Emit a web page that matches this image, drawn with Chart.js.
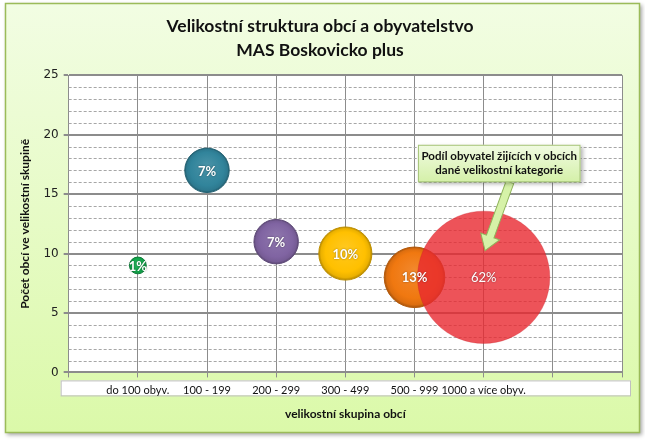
<!DOCTYPE html>
<html>
<head>
<meta charset="utf-8">
<script src="https://cdn.jsdelivr.net/npm/chart.js@4.4.1/dist/chart.umd.min.js"></script>
<style>
  html, body { margin: 0; padding: 0; background: #fff; }
  #wrap { width: 645px; height: 440px; position: relative; }
</style>
</head>
<body>
<div id="wrap"><canvas id="myChart"></canvas></div>
<script>
const categories = ["do 100 obyv.", "100 - 199", "200 - 299", "300 - 499", "500 - 999", "1000 a více obyv."];
const municipalityCounts = [9, 17, 11, 10, 8, 8];
const populationShares = [1, 7, 7, 10, 13, 62];
const bubbleColors = ["#12a84c", "#31849b", "#8064a2", "#ffc000", "#f07810", "#e8323c"];
const yTickValues = [0, 5, 10, 15, 20, 25];
const calloutLines = ["Podíl obyvatel žijících v obcích", "dané velikostní kategorie"];
// callout box + arrow in data units (x from, x to, y top, y bottom; arrow tip)
const calloutBox = [5.05, 7.4, 19.15, 16.0];
const calloutArrow = [6.38, 16.0, 6.02, 10.25];

const FONT = "Lato, 'Open Sans', sans-serif";

const bubblePoints = categories.map((c, i) => ({
  x: i + 1,
  y: municipalityCounts[i],
  r: 8.4 * Math.sqrt(populationShares[i]),
}));

const shade = (hex, amt) => {
  const n = parseInt(hex.slice(1), 16);
  const f = (v) => Math.max(0, Math.min(255, Math.round(amt > 0 ? v + (255 - v) * amt : v * (1 + amt))));
  return `rgb(${f(n >> 16)},${f((n >> 8) & 255)},${f(n & 255)})`;
};

const bubbleFill = (context) => {
  const chart = context.chart;
  const i = context.dataIndex;
  const color = bubbleColors[i];
  if (i === undefined) return "#999";
  if (i === 5) return "rgba(232,40,48,0.8)";
  const { x, y } = chart.scales;
  if (!x || !y) return color;
  const p = bubblePoints[i];
  const px = x.getPixelForValue(p.x);
  const py = y.getPixelForValue(p.y);
  if (!Number.isFinite(px) || !Number.isFinite(py)) return color;
  const r = p.r;
  const g = chart.ctx.createRadialGradient(px, py - r * 0.25, 0, px, py, r);
  g.addColorStop(0, shade(color, 0.12));
  g.addColorStop(0.75, color);
  g.addColorStop(0.92, shade(color, -0.08));
  g.addColorStop(1, shade(color, -0.3));
  return g;
};

const frame = {
  id: "frame",
  beforeDraw(chart) {
    const { ctx, chartArea: a } = chart;
    ctx.save();
    ctx.fillStyle = "#fff";
    ctx.fillRect(0, 0, chart.width, chart.height);
    ctx.shadowColor = "rgba(0,0,0,0.35)";
    ctx.shadowBlur = 4;
    ctx.shadowOffsetX = 2;
    ctx.shadowOffsetY = 2;
    const g = ctx.createLinearGradient(0, 3, 0, 432);
    g.addColorStop(0, "#f2fde3");
    g.addColorStop(1, "#dbf9a9");
    ctx.fillStyle = g;
    ctx.fillRect(5, 3, 635, 430);
    ctx.shadowColor = "transparent";
    ctx.strokeStyle = "#9bbb59";
    ctx.lineWidth = 1.5;
    ctx.strokeRect(5.5, 3.5, 634, 429);
    ctx.fillStyle = "#fff";
    ctx.fillRect(a.left, a.top, a.right - a.left, a.bottom - a.top);
    // category label strip
    ctx.fillRect(a.left - 8, a.bottom + 8, a.right - a.left + 17, 15);
    ctx.strokeStyle = "#bfbfbf";
    ctx.lineWidth = 1;
    ctx.strokeRect(a.left - 7.5, a.bottom + 8.5, a.right - a.left + 16, 15);
    ctx.restore();
  },
  beforeDatasetsDraw(chart) {
    const { ctx, chartArea: a, scales } = chart;
    ctx.save();
    ctx.strokeStyle = "#a6a6a6";
    ctx.lineWidth = 1;
    ctx.setLineDash([3, 2]);
    for (let v = 1; v < 25; v++) {
      if (v % 5 === 0) continue;
      const py = Math.round(scales.y.getPixelForValue(v)) + 0.5;
      ctx.beginPath();
      ctx.moveTo(a.left, py);
      ctx.lineTo(a.right, py);
      ctx.stroke();
    }
    ctx.restore();
  },
  afterDatasetsDraw(chart) {
    const { ctx } = chart;
    const meta = chart.getDatasetMeta(0);
    ctx.save();
    ctx.textAlign = "center";
    ctx.textBaseline = "middle";
    meta.data.forEach((el, i) => {
      ctx.font = `${i === 5 ? "normal" : "bold"} 13px ${FONT}`;
      ctx.fillStyle = "#fff";
      ctx.shadowColor = "rgba(0,0,0,0.45)";
      ctx.shadowBlur = 2;
      ctx.fillText(populationShares[i] + "%", el.x, el.y + 1);
    });
    ctx.restore();
  },
  afterDraw(chart) {
    const { ctx, scales } = chart;
    const X = (v) => scales.x.getPixelForValue(v);
    const Y = (v) => scales.y.getPixelForValue(v);
    ctx.save();
    // arrow
    const x0 = X(calloutArrow[0]), y0 = Y(calloutArrow[1]);
    const x1 = X(calloutArrow[2]), y1 = Y(calloutArrow[3]);
    const ang = Math.atan2(y1 - y0, x1 - x0);
    const len = Math.hypot(x1 - x0, y1 - y0);
    ctx.translate(x0, y0);
    ctx.rotate(ang);
    ctx.beginPath();
    ctx.moveTo(0, -4);
    ctx.lineTo(len - 15, -4);
    ctx.lineTo(len - 15, -10);
    ctx.lineTo(len, 0);
    ctx.lineTo(len - 15, 10);
    ctx.lineTo(len - 15, 4);
    ctx.lineTo(0, 4);
    ctx.closePath();
    ctx.fillStyle = "#d6f2a8";
    ctx.fill();
    ctx.strokeStyle = "#8fb35a";
    ctx.lineWidth = 1;
    ctx.stroke();
    ctx.setTransform(1, 0, 0, 1, 0, 0);
    // box
    const bx = X(calloutBox[0]), bx2 = X(calloutBox[1]);
    const by = Y(calloutBox[2]), by2 = Y(calloutBox[3]);
    ctx.shadowColor = "rgba(0,0,0,0.3)";
    ctx.shadowBlur = 4;
    ctx.shadowOffsetX = 2;
    ctx.shadowOffsetY = 2;
    const g = ctx.createLinearGradient(0, by, 0, by2);
    g.addColorStop(0, "#f1fbe2");
    g.addColorStop(1, "#d4f0a8");
    ctx.fillStyle = g;
    ctx.fillRect(bx, by, bx2 - bx, by2 - by);
    ctx.shadowColor = "transparent";
    ctx.strokeStyle = "#a7c57a";
    ctx.strokeRect(bx + 0.5, by + 0.5, bx2 - bx - 1, by2 - by - 1);
    ctx.fillStyle = "#111";
    ctx.font = `bold 11.5px ${FONT}`;
    ctx.textAlign = "center";
    ctx.textBaseline = "middle";
    const cx = (bx + bx2) / 2;
    ctx.fillText(calloutLines[0], cx, by + 11.5);
    ctx.fillText(calloutLines[1], cx, by + 26);
    ctx.restore();
  },
};

const canvas = document.getElementById("myChart");
const ctx = canvas.getContext("2d");

const myChart = new Chart(ctx, {
  type: "bubble",
  data: {
    datasets: [
      {
        data: bubblePoints,
        backgroundColor: bubbleFill,
        borderColor: (c) => (c.dataIndex === 5 ? "rgba(200,30,40,0.3)" : shade(bubbleColors[c.dataIndex] || "#999999", -0.25)),
        borderWidth: 1,
        hoverRadius: 0,
      },
    ],
  },
  options: {
    responsive: true,
    maintainAspectRatio: false,
    devicePixelRatio: 1,
    animation: false,
    layout: { autoPadding: false, padding: { left: 18, right: 23, bottom: 19 } },
    plugins: {
      legend: { display: false },
      tooltip: { enabled: false },
      title: {
        display: true,
        text: ["Velikostní struktura obcí a obyvatelstvo", "MAS Boskovicko plus"],
        color: "#111",
        font: { family: FONT, size: 17.5, weight: "bold", lineHeight: 1.35 },
        padding: { top: 15, bottom: 13 },
      },
    },
    scales: {
      x: {
        type: "linear",
        min: 0,
        max: 8,
        grid: { color: "#8c8c8c", lineWidth: 1, tickLength: 5, tickColor: "#8c8c8c" },
        border: { color: "#8c8c8c", width: 1 },
        ticks: {
          stepSize: 1,
          autoSkip: false,
          maxRotation: 0,
          padding: 6,
          color: "#111",
          font: { family: FONT, size: 11 },
          callback: (v) => categories[v - 1] || "",
        },
        title: {
          display: true,
          text: "velikostní skupina obcí",
          color: "#111",
          font: { family: FONT, size: 12, weight: "bold" },
          padding: { top: 4, bottom: 0 },
        },
      },
      y: {
        min: 0,
        max: 25,
        afterBuildTicks: (scale) => {
          scale.ticks = yTickValues.map((v) => ({ value: v }));
        },
        grid: { color: "#8c8c8c", lineWidth: 2, tickLength: 5, tickColor: "#8c8c8c" },
        border: { color: "#8c8c8c", width: 1 },
        ticks: {
          padding: 5,
          color: "#222",
          font: { family: "'DejaVu Sans', sans-serif", size: 12 },
        },
        title: {
          display: true,
          text: "Počet obcí ve velikostní skupině",
          color: "#111",
          font: { family: FONT, size: 12, weight: "bold" },
          padding: { top: 0, bottom: 6 },
        },
      },
    },
  },
  plugins: [frame],
});
</script>
</body>
</html>
